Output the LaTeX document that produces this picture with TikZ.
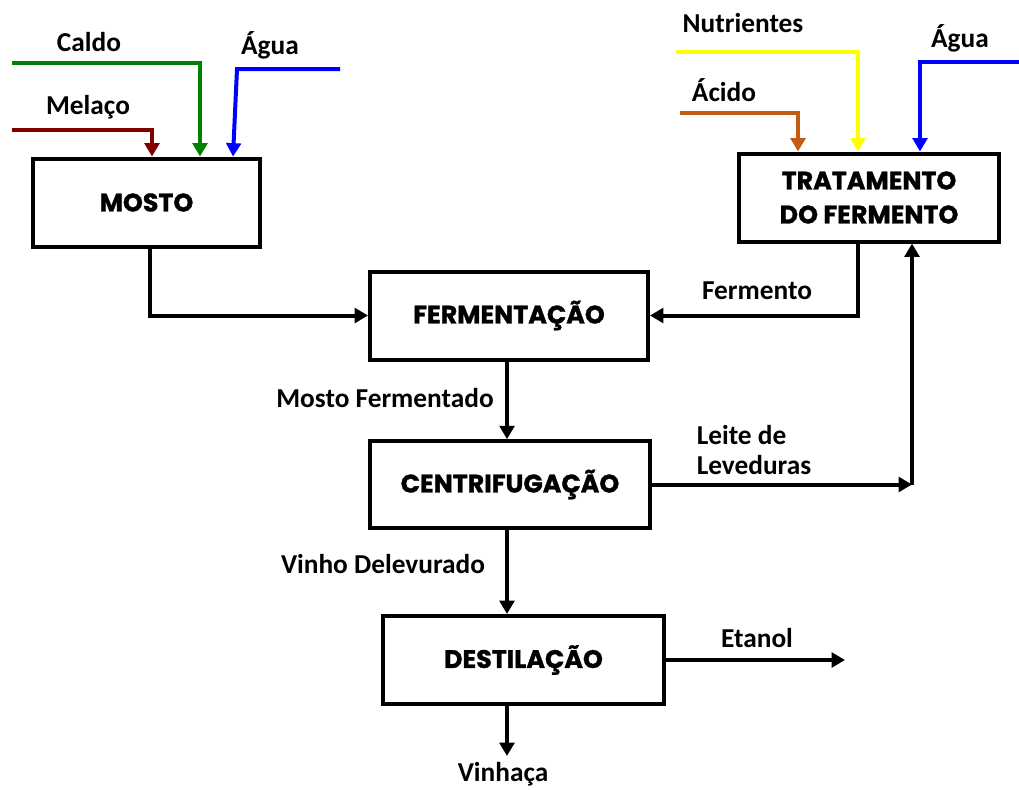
\documentclass[tikz,border=0pt]{standalone}
\usepackage{fontspec}
\setmainfont{Carlito}
\newfontfamily\boxfont{Poppins}[BoldFeatures={FakeBold=1.2}]
\usepackage{tikz}
\usetikzlibrary{arrows.meta}

\definecolor{melaco}{HTML}{800000}
\definecolor{caldo}{HTML}{008000}
\definecolor{agua}{HTML}{0000FF}
\definecolor{acido}{HTML}{C55A11}
\definecolor{nutri}{HTML}{FFFF00}

\tikzset{
  box/.style={draw, line width=3pt, minimum height=66pt, align=center,
    font=\boxfont\bfseries\fontsize{19}{25.5}\selectfont},
  lbl/.style={font=\bfseries\fontsize{20.5}{22}\selectfont},
  flow/.style={line width=3pt, -{Triangle[length=10pt,width=11pt]}}
}

\begin{document}
\begin{tikzpicture}[x=0.75pt,y=-0.75pt]
  \useasboundingbox (0,0) rectangle (1019,789);
  % process boxes
  \draw (146.5,202.5) node[box,minimum width=170pt] (mosto) {MOSTO};
  \draw (509,315.5) node[box,minimum width=208.5pt] (ferm) {FERMENTAÇÃO};
  \draw (869,197.5) node[box,minimum width=195pt] (trat) {TRATAMENTO\\DO FERMENTO};
  \draw (510,484.5) node[box,minimum width=210pt,minimum height=65pt] (cent) {CENTRIFUGAÇÃO};
  \draw (523.5,660) node[box,minimum width=210.75pt] (dest) {DESTILAÇÃO};
  % stream labels
  \draw (89,42) node[lbl] (caldo) {Caldo};
  \draw (270,45) node[lbl] (agua) {Água};
  \draw (88,107) node[lbl] (melacolbl) {Melaço};
  \draw (743,23) node[lbl] (nutrientes) {Nutrientes};
  \draw (724,90) node[lbl] (acidolbl) {Ácido};
  \draw (960,38) node[lbl] (agua2) {Água};
  \draw (757,291) node[lbl] (fermento) {Fermento};
  \draw (385,398) node[lbl] (mfer) {Mosto Fermentado};
  \draw (754,450) node[lbl,align=left] (leite) {Leite de\\Leveduras};
  \draw (383,564) node[lbl] (vinho) {Vinho Delevurado};
  \draw (757,638) node[lbl] (etanol) {Etanol};
  \draw (503,774) node[lbl] (vinhaca) {Vinhaça};
  % free ends and bends
  \coordinate (melaco-in) at (12,130);  \coordinate (melaco-c) at (152,130);
  \coordinate (caldo-in) at (12,63);    \coordinate (caldo-c) at (200,63);
  \coordinate (agua-in) at (340,69);    \coordinate (agua-c) at (237,69);
  \coordinate (agua-x) at (233,0);
  \coordinate (acido-in) at (680,113);  \coordinate (acido-c) at (798,113);
  \coordinate (nutri-in) at (676,52);   \coordinate (nutri-c) at (858,52);
  \coordinate (agua2-in) at (1019,62);  \coordinate (agua2-c) at (920,62);
  \coordinate (ferm-x) at (858,0);
  \coordinate (leite-x) at (912,0);
  \coordinate (main-x) at (507,0);
  \coordinate (etanol-out) at (845,660);
  \coordinate (vinhaca-out) at (507,756);
  % inputs
  \draw[flow,melaco] (melaco-in) -- (melaco-c) -- (melaco-c |- mosto.north);
  \draw[flow,caldo] (caldo-in) -- (caldo-c) -- (caldo-c |- mosto.north);
  \draw[flow,agua] (agua-in) -- (agua-c) -- (agua-x |- mosto.north);
  \draw[flow,acido] (acido-in) -- (acido-c) -- (acido-c |- trat.north);
  \draw[flow,nutri] (nutri-in) -- (nutri-c) -- (nutri-c |- trat.north);
  \draw[flow,agua] (agua2-in) -- (agua2-c) -- (agua2-c |- trat.north);
  % main line
  \draw[flow] (mosto.south -| 150,0) |- (ferm.west);
  \draw[flow] (trat.south -| ferm-x) |- (ferm.east);
  \draw[flow] (ferm.south -| main-x) -- (main-x |- cent.north);
  \draw[flow] (cent.east) -- (cent.east -| leite-x);
  \draw[flow] (cent.east -| leite-x) -- (leite-x |- trat.south);
  \draw[flow] (cent.south -| main-x) -- (main-x |- dest.north);
  \draw[flow] (dest.east) -- (etanol-out);
  \draw[flow] (dest.south -| main-x) -- (vinhaca-out);
\end{tikzpicture}
\end{document}
